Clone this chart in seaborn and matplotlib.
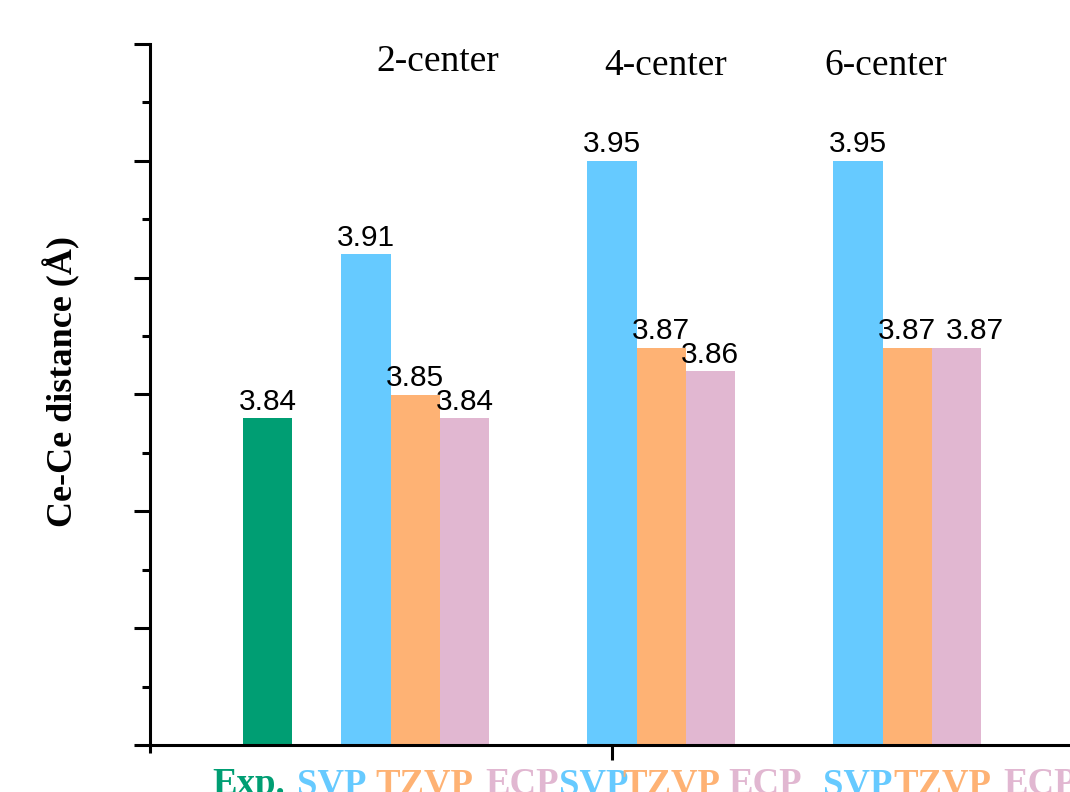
import matplotlib
matplotlib.use("Agg")
import matplotlib.pyplot as plt
from matplotlib.ticker import FixedLocator, MultipleLocator
import numpy as np
import pandas as pd
import seaborn as sns

# ---- data -------------------------------------------------------------
groups = ["Exp.", "2-center", "2-center", "2-center",
          "4-center", "4-center", "4-center",
          "6-center", "6-center", "6-center"]
basis = ["Exp.", "SVP", "TZVP", "ECP", "SVP", "TZVP", "ECP", "SVP", "TZVP", "ECP"]
distance = [3.84, 3.91, 3.85, 3.84, 3.95, 3.87, 3.86, 3.95, 3.87, 3.87]
group_titles = ["2-center", "4-center", "6-center"]

# slot index of each bar along the x axis (groups separated by empty slots)
slot = [0, 2, 3, 4, 7, 8, 9, 12, 13, 14]

palette = {"Exp.": "#009E73", "SVP": "#66CAFF", "TZVP": "#FEB274", "ECP": "#E1B7D1"}

df = pd.DataFrame({"slot": slot, "distance": distance, "basis": basis, "group": groups})

# ---- figure -----------------------------------------------------------
sns.set_style("ticks")
plt.rcParams["font.family"] = ["Liberation Sans", "DejaVu Sans"]
plt.rcParams["text.color"] = "black"
plt.rcParams["axes.labelcolor"] = "black"

W, H = 1070, 792
fig = plt.figure(figsize=(W / 100, H / 100), dpi=100)
ax = fig.add_axes([150 / W, (H - 745) / H, 950 / W, 701 / H])

sns.barplot(data=df, x="slot", y="distance", hue="basis", palette=palette,
            native_scale=True, dodge=False, width=1.0, errorbar=None,
            saturation=1, linewidth=0, legend=False, ax=ax)

px_per_slot = 49.2
x_left = (150 - 267.6) / px_per_slot
ax.set_xlim(x_left, x_left + 950 / px_per_slot)
ax.set_ylim(3.70, 4.00)

# value labels above bars (the last one nudged right so neighbours don't collide)
label_shift_pt = [0, 0, 0, 0, 0, 0, 0, 0, 0, 13]
for x, v, dx in zip(slot, distance, label_shift_pt):
    ax.annotate(f"{v:.2f}", xy=(x, v), xytext=(dx, 6), textcoords="offset points",
                ha="center", va="baseline", fontsize=21.5, color="black",
                family=["Liberation Sans", "DejaVu Sans"])

# group titles
serif = ["Liberation Serif", "DejaVu Serif"]
title_x = [3.45, 8.10, 12.56]
title_y = [3.9884, 3.9867, 3.9867]
for t, tx, ty in zip(group_titles, title_x, title_y):
    ax.text(tx, ty, t, ha="center", va="baseline", fontsize=27, color="black",
            family=serif, clip_on=False)

# axes styling
for side in ["top", "right"]:
    ax.spines[side].set_visible(False)
for side in ["left", "bottom"]:
    ax.spines[side].set_linewidth(2.2)
    ax.spines[side].set_color("black")

ax.yaxis.set_major_locator(MultipleLocator(0.05))
ax.yaxis.set_minor_locator(MultipleLocator(0.025))
ax.tick_params(axis="y", which="major", length=11.5, width=2.2, direction="out",
               labelleft=False, color="black")
ax.tick_params(axis="y", which="minor", length=6, width=2.2, direction="out",
               color="black")
ax.xaxis.set_major_locator(FixedLocator([7.0]))
ax.xaxis.set_minor_locator(FixedLocator([x_left]))
ax.tick_params(axis="x", which="major", length=11, width=2.2, direction="out",
               labelbottom=False, color="black")
ax.tick_params(axis="x", which="minor", length=6, width=2.2, direction="out",
               color="black")
ax.set_xlabel("")

ax.set_ylabel("Ce-Ce distance (Å)", fontsize=26, fontweight="bold",
              family=serif, va="center", color="black")
ax.yaxis.set_label_coords((62 - 150) / 950, 0.518)

# coloured basis-set names under the axis
label_left_px = [212, 297, 375, 485, 559, 622, 728, 823, 893, 1003]
for name, lx in zip(basis, label_left_px):
    fig.text(lx / W, (H - 794.5) / H, name, color=palette[name], fontsize=26.5,
             fontweight="bold", family=serif, ha="left", va="baseline")

fig.savefig("out.png", dpi=100)
